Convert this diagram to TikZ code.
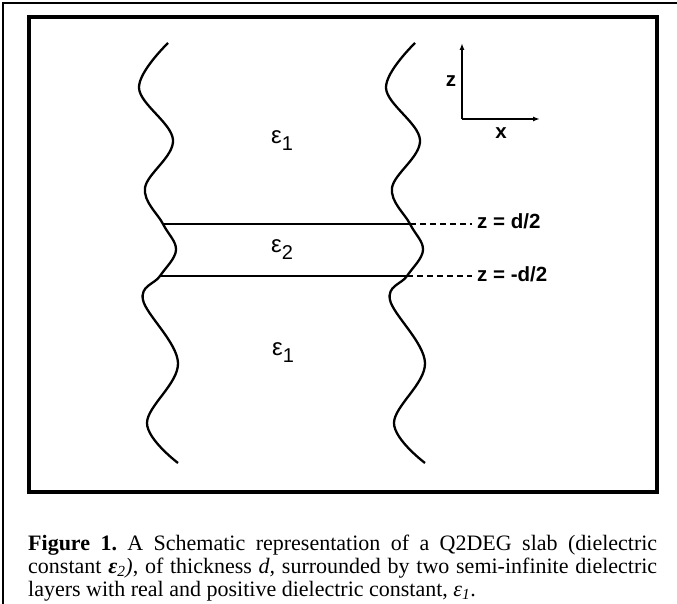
\documentclass[tikz,border=0pt]{standalone}
\usepackage{fontspec}
\setmainfont{Liberation Serif}
\setsansfont{Liberation Sans}
\usetikzlibrary{arrows.meta,positioning}
\frenchspacing
\newcommand{\epsn}[1]{ε\raisebox{-7pt}{\fontsize{20}{20}\selectfont #1}}

\begin{document}
\begin{tikzpicture}[x=1pt,y=-1pt,
  wave/.style={line width=2.3pt,line join=round},
  slab/.style={line width=2pt},
  guide/.style={line width=1.2pt,dash pattern=on 6pt off 4pt},
  axis/.style={line width=1.8pt,-{Latex[length=7pt,width=5pt]}},
  lbl/.style={font=\sffamily\bfseries\fontsize{20.5}{23}\selectfont,inner sep=0pt},
  eps/.style={font=\sffamily\fontsize{24}{26}\selectfont,inner sep=0pt}]
  \useasboundingbox (0,0) rectangle (677,604);
  \draw[line width=1.4pt] (3,604) -- (3,3) -- (677,3);
  \draw[line width=3.5pt] (29,17) rectangle (657,492);
  % the two wavy interfaces
  \foreach \s/\n in {0/l,247/r}{
    \draw[wave] plot[smooth,tension=0.6] coordinates {(168+\s,43) (139+\s,88) (173+\s,140) (145+\s,188) (163+\s,224) (176+\s,250) (160+\s,276) (143+\s,300) (178+\s,363) (147+\s,423) (178+\s,463)};
    \coordinate (\n-top) at (163+\s,224);
    \coordinate (\n-bot) at (160+\s,276);
  }
  \draw[slab] (l-top) -- (r-top);
  \draw[slab] (l-bot) -- (r-bot);
  \node[eps] (e1up) at (282,141) {\epsn{1}};
  \node[eps] (e2) at (282,250) {\epsn{2}};
  \node[eps] (e1dn) at (283,353) {\epsn{1}};
  % slab edges
  \node[lbl,anchor=base west] (zup) at (477,229) {z = d/2};
  \node[lbl,anchor=base west] (zdn) at (477,281) {z = -d/2};
  \draw[guide] (r-top) -- ([xshift=-5pt]zup.west |- r-top);
  \draw[guide] (r-bot) -- ([xshift=-5pt]zdn.west |- r-bot);
  % axes
  \coordinate (O) at (462,119);
  \coordinate (ztip) at (462,43);
  \coordinate (xtip) at (540,119);
  \draw[axis] (O) -- (ztip);
  \draw[axis] (O) -- (xtip);
  \node[lbl] (zl) at (451,81) {z};
  \node[lbl] (xl) at (501,133) {x};
  \node[anchor=north west,text width=629pt,align=justify,inner sep=0pt,font=\fontsize{22}{23}\selectfont] (cap) at (28,535)
    {\textbf{Figure 1.} A Schematic representation of a Q2DEG slab (dielectric\linebreak
     constant {\bfseries\itshape ε}\textsubscript{\textit{2}}\textit{)}, of thickness \textit{d,} surrounded by two semi-infinite dielectric\linebreak
     layers with real and positive dielectric constant, \textit{ε}\textsubscript{\textit{1}}.};
\end{tikzpicture}
\end{document}
